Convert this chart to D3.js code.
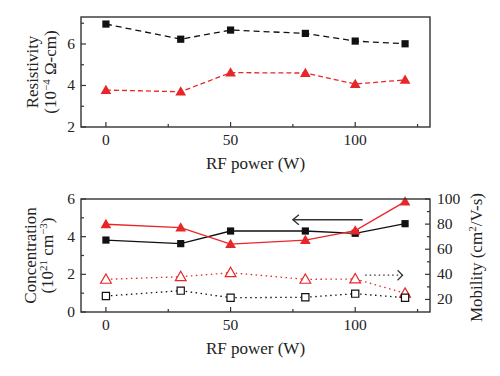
<!DOCTYPE html>
<html><head><meta charset="utf-8">
<script src="https://cdn.jsdelivr.net/npm/d3@7"></script>
<style>body{margin:0;background:#fff}svg{display:block}text{font-family:"Liberation Serif",serif;fill:#222}</style>
</head><body>
<svg id="c" width="500" height="376"></svg>
<script>
const power = [0, 30, 50, 80, 100, 120];
const resBlack = [6.96, 6.23, 6.67, 6.51, 6.14, 6.01];
const resRed = [3.78, 3.70, 4.62, 4.60, 4.07, 4.27];
const concBlack = [3.82, 3.63, 4.30, 4.30, 4.18, 4.69];
const concRed = [4.66, 4.48, 3.60, 3.82, 4.32, 5.86];
const mobRed = [36.0, 38.1, 41.3, 36.0, 36.3, 24.9];
const mobBlack = [22.7, 27.0, 21.4, 21.7, 24.6, 21.4];
const xTicks = [0, 50, 100];
const xMinor = [25, 75, 125];
const resTicks = [2, 4, 6];
const resMinor = [3, 5, 7];
const concTicks = [0, 2, 4, 6];
const concMinor = [1, 3, 5];
const mobTicks = [20, 40, 60, 80, 100];
const mobMinor = [30, 50, 70, 90];

const svg = d3.select("#c");
const L = 81, R = 430;
const x = d3.scaleLinear().domain([-10, 130]).range([L, R]);
const RED = "#e8262a", BLK = "#111";

function frame(top, bot) {
  svg.append("rect").attr("x", L).attr("y", top).attr("width", R - L).attr("height", bot - top)
    .attr("fill", "none").attr("stroke", "#333").attr("stroke-width", 1.4);
}
function xAxis(bot, top) {
  const g = svg.append("g");
  xTicks.forEach(v => g.append("line").attr("x1", x(v)).attr("x2", x(v)).attr("y1", bot).attr("y2", bot - 5).attr("stroke", "#333").attr("stroke-width", 1.2));
  xMinor.forEach(v => g.append("line").attr("x1", x(v)).attr("x2", x(v)).attr("y1", bot).attr("y2", bot - 3).attr("stroke", "#333").attr("stroke-width", 1.2));
  xTicks.forEach(v => g.append("text").attr("x", x(v)).attr("y", bot + 18).attr("text-anchor", "middle").attr("font-size", 15.5).text(v));
  g.append("text").attr("x", (L + R) / 2).attr("y", bot + 42).attr("text-anchor", "middle").attr("font-size", 17).text("RF power (W)");
}
function yAxis(y, ticks, minor, side) {
  const g = svg.append("g");
  const x0 = side === "left" ? L : R, d = side === "left" ? 1 : -1;
  ticks.forEach(v => g.append("line").attr("x1", x0).attr("x2", x0 + d * 5).attr("y1", y(v)).attr("y2", y(v)).attr("stroke", "#333").attr("stroke-width", 1.2));
  minor.forEach(v => g.append("line").attr("x1", x0).attr("x2", x0 + d * 3).attr("y1", y(v)).attr("y2", y(v)).attr("stroke", "#333").attr("stroke-width", 1.2));
  ticks.forEach(v => g.append("text").attr("x", side === "left" ? x0 - 6 : x0 + 7).attr("y", y(v) + 5)
    .attr("text-anchor", side === "left" ? "end" : "start").attr("font-size", 15.5).text(v));
}
function series(y, vals, color, dash, marker, filled) {
  const line = d3.line().x((d, i) => x(power[i])).y(d => y(d));
  svg.append("path").attr("d", line(vals)).attr("fill", "none").attr("stroke", color).attr("stroke-width", 1.3)
    .attr("stroke-dasharray", dash);
  const sym = d3.symbol().type(marker === "sq" ? d3.symbolSquare : d3.symbolTriangle).size(marker === "sq" ? 52 : 50);
  svg.append("g").selectAll("path").data(vals).join("path")
    .attr("transform", (d, i) => `translate(${x(power[i])},${y(d) + (marker === "tri" ? 0.8 : 0)})`)
    .attr("d", sym)
    .attr("fill", filled ? color : "#fff").attr("stroke", color).attr("stroke-width", filled ? 0 : 1.2);
}

// Top panel
const T1 = 17, B1 = 127;
const yRes = d3.scaleLinear().domain([2, 7.3]).range([B1, T1]);
series(yRes, resBlack, BLK, "6,4", "sq", true);
series(yRes, resRed, RED, "5,3", "tri", true);
frame(T1, B1);
xAxis(B1);
yAxis(yRes, resTicks, resMinor, "left");
svg.append("text").attr("transform", `translate(38,${(T1 + B1) / 2}) rotate(-90)`).attr("text-anchor", "middle").attr("font-size", 17).text("Resistivity");
const t2 = svg.append("text").attr("transform", `translate(56,${(T1 + B1) / 2}) rotate(-90)`).attr("text-anchor", "middle").attr("font-size", 17);
t2.append("tspan").text("(10");
t2.append("tspan").attr("font-size", 11).attr("dy", -6).text("\u22124");
t2.append("tspan").attr("dy", 6).text(" \u03A9-cm)");

// Bottom panel
const T2 = 199, B2 = 312;
const yConc = d3.scaleLinear().domain([0, 6]).range([B2, T2]);
const yMob = d3.scaleLinear().domain([10, 100]).range([B2, T2]);
series(yMob, mobRed, RED, "1.5,3.5", "tri", false);
series(yMob, mobBlack, BLK, "1.5,3.5", "sq", false);
series(yConc, concBlack, BLK, null, "sq", true);
series(yConc, concRed, RED, null, "tri", true);
frame(T2, B2);
xAxis(B2);
yAxis(yConc, concTicks, concMinor, "left");
yAxis(yMob, mobTicks, mobMinor, "right");
svg.append("text").attr("transform", `translate(36,${(T2 + B2) / 2}) rotate(-90)`).attr("text-anchor", "middle").attr("font-size", 17).text("Concentration");
const t3 = svg.append("text").attr("transform", `translate(53,${(T2 + B2) / 2}) rotate(-90)`).attr("text-anchor", "middle").attr("font-size", 17);
t3.append("tspan").text("(10");
t3.append("tspan").attr("font-size", 11).attr("dy", -6).text("21");
t3.append("tspan").attr("dy", 6).text(" cm");
t3.append("tspan").attr("font-size", 11).attr("dy", -6).text("\u22123");
t3.append("tspan").attr("dy", 6).text(")");
const t4 = svg.append("text").attr("transform", `translate(482,${(T2 + B2) / 2 + 2}) rotate(-90)`).attr("text-anchor", "middle").attr("font-size", 17);
t4.append("tspan").text("Mobility (cm");
t4.append("tspan").attr("font-size", 11).attr("dy", -6).text("2");
t4.append("tspan").attr("dy", 6).text("/V-s)");

// Arrows
const ay1 = yConc(4.9);
svg.append("line").attr("x1", x(103)).attr("x2", x(75)).attr("y1", ay1).attr("y2", ay1).attr("stroke", "#333").attr("stroke-width", 1.4);
svg.append("path").attr("d", `M${x(75) + 6},${ay1 - 5}L${x(75)},${ay1}L${x(75) + 6},${ay1 + 5}`).attr("fill", "none").attr("stroke", "#333").attr("stroke-width", 1.4);
const ay2 = yMob(39.3);
svg.append("line").attr("x1", x(104)).attr("x2", x(119)).attr("y1", ay2).attr("y2", ay2).attr("stroke", "#333").attr("stroke-width", 1.3).attr("stroke-dasharray", "1.5,3");
svg.append("path").attr("d", `M${x(119) - 5},${ay2 - 5}L${x(119)},${ay2}L${x(119) - 5},${ay2 + 5}`).attr("fill", "none").attr("stroke", "#333").attr("stroke-width", 1.2);
</script>
</body></html>
